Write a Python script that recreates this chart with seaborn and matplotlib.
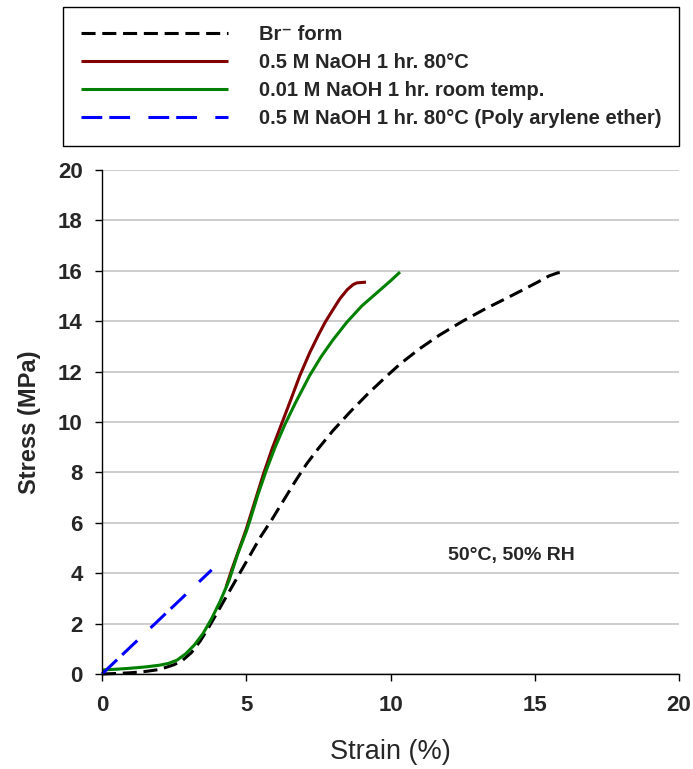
import matplotlib
matplotlib.use("Agg")
import matplotlib.pyplot as plt
import seaborn as sns

# ---------------- data ----------------
br_strain = [0.0, 0.5, 1.0, 1.5, 2.0, 2.5, 2.8, 3.1, 3.4, 3.7, 4.0, 4.3, 4.6, 4.9, 5.2,
             5.5, 5.9, 6.3, 6.7, 7.1, 7.5, 8.0, 8.6, 9.2, 9.8, 10.33, 11.0, 11.7, 12.5,
             13.3, 14.0, 14.6, 15.1, 15.5, 15.8, 16.1]
br_stress = [0.0, 0.02, 0.05, 0.10, 0.18, 0.37, 0.55, 0.85, 1.3, 1.85, 2.45, 3.05, 3.65,
             4.25, 4.85, 5.45, 6.15, 6.9, 7.65, 8.35, 8.95, 9.65, 10.4, 11.1, 11.75, 12.3,
             12.9, 13.45, 14.0, 14.5, 14.9, 15.25, 15.55, 15.8, 15.92, 15.95]

red_strain = [4.3, 4.5, 4.72, 5.0, 5.3, 5.6, 5.9, 6.2, 6.5, 6.86, 7.2, 7.5, 7.73, 8.0,
              8.25, 8.5, 8.7, 8.83, 9.15]
red_stress = [3.45, 4.15, 4.85, 5.75, 6.85, 7.95, 8.95, 9.85, 10.75, 11.85, 12.75, 13.45,
              13.95, 14.45, 14.9, 15.25, 15.45, 15.52, 15.55]

grn_strain = [0.0, 0.5, 1.0, 1.5, 2.0, 2.3, 2.6, 2.9, 3.2, 3.5, 3.8, 4.1, 4.4, 4.7, 5.0,
              5.13, 5.4, 5.7, 6.0, 6.34, 6.7, 7.2, 7.6, 8.0, 8.48, 9.0, 9.5, 10.0, 10.33]
grn_stress = [0.16, 0.19, 0.23, 0.28, 0.35, 0.42, 0.55, 0.8, 1.15, 1.6, 2.2, 2.9, 3.7,
              4.75, 5.65, 6.1, 7.1, 8.1, 9.0, 9.9, 10.75, 11.85, 12.6, 13.25, 13.95, 14.6,
              15.1, 15.6, 15.95]

blu_strain = [0.0, 3.8]
blu_stress = [0.0, 4.13]

labels = ["Br\u207b form",
          "0.5 M NaOH 1 hr. 80\u00b0C",
          "0.01 M NaOH 1 hr. room temp.",
          "0.5 M NaOH 1 hr. 80\u00b0C (Poly arylene ether)"]
x_ticks = [0, 5, 10, 15, 20]
y_ticks = [0, 2, 4, 6, 8, 10, 12, 14, 16, 18, 20]
annotation = "50\u00b0C, 50% RH"

# ---------------- style ----------------
sns.set_theme(style="white")
plt.rcParams["font.family"] = ["Liberation Sans", "DejaVu Sans"]

fig = plt.figure(figsize=(6.93, 7.69), dpi=100)
ax = fig.add_axes([102 / 693, 1 - 674 / 769, (679 - 102) / 693, (674 - 170) / 769])

lw = 2.2
sns.lineplot(x=br_strain, y=br_stress, ax=ax, color="black", lw=lw, sort=False,
             estimator=None, linestyle=(0, (4.6, 2.2)), label=labels[0])
sns.lineplot(x=red_strain, y=red_stress, ax=ax, color="#800000", lw=lw, sort=False,
             estimator=None, label=labels[1])
sns.lineplot(x=grn_strain, y=grn_stress, ax=ax, color="#008000", lw=lw, sort=False,
             estimator=None, label=labels[2])
sns.lineplot(x=blu_strain, y=blu_stress, ax=ax, color="#0000FF", lw=lw, sort=False,
             estimator=None, linestyle=(0, (6.8, 2.3, 6.8, 6.0)), label=labels[3])

for ln in ax.lines:
    ln.set_clip_on(False)
    ln.set_solid_joinstyle("round")
    ln.set_solid_capstyle("butt")

ax.set_xlim(0, 20)
ax.set_ylim(0, 20)
ax.set_xticks(x_ticks)
ax.set_yticks(y_ticks)
ax.yaxis.grid(True, color="#C0C0C0", lw=1.1)
ax.xaxis.grid(False)
ax.set_axisbelow(True)

for s in ["top", "right"]:
    ax.spines[s].set_visible(False)
for s in ["left", "bottom"]:
    ax.spines[s].set_color("black")
    ax.spines[s].set_linewidth(1.0)

ax.tick_params(axis="both", which="major", direction="out", length=5, width=1,
               color="black", labelsize=16, left=True, bottom=True)
ax.tick_params(axis="x", pad=10)
ax.tick_params(axis="y", pad=9)
for t in ax.get_xticklabels() + ax.get_yticklabels():
    t.set_fontweight("bold")

ax.set_xlabel("Strain (%)", fontsize=19.5, labelpad=17)
ax.set_ylabel("Stress (MPa)", fontsize=17, fontweight="bold", labelpad=12)

ax.text(14.2, 4.72, annotation, ha="center", va="center", fontsize=14, fontweight="bold")

handles, labs = ax.get_legend_handles_labels()
ax.get_legend().remove()
leg = fig.legend(handles, labs, loc="upper left",
                 bbox_to_anchor=(63.3 / 693, 1 - 7.3 / 769),
                 bbox_transform=fig.transFigure, frameon=True, fancybox=False,
                 edgecolor="black", framealpha=1, borderaxespad=0,
                 prop={"size": 14.5, "weight": "bold"}, handlelength=7.3,
                 handletextpad=1.55, labelspacing=0.46, borderpad=0.86)
leg.get_frame().set_linewidth(1.0)

fig.savefig("out.png", dpi=100, facecolor="white")
